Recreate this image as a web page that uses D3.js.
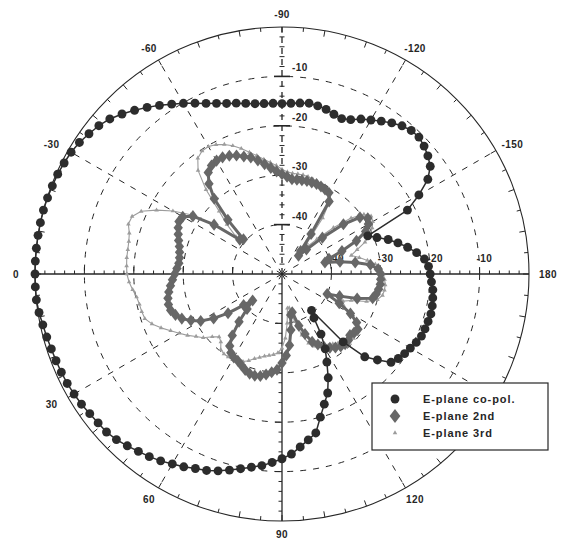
<!DOCTYPE html>
<html>
<head>
<meta charset="utf-8">
<script src="https://cdn.jsdelivr.net/npm/d3@7"></script>
<style>
  body { margin: 0; background: #fff; }
  svg text { font-family: "Liberation Sans", Arial, sans-serif; }
</style>
</head>
<body>
<svg id="chart" width="569" height="538"></svg>
<script>
// Measurement angles (deg): 0 = left, 90 = bottom, -90 = top, 180 = right
const angles = [
  -180,-177,-174,-171,-168,-165,-162,-159,-156,-153,-150,-147,-144,-141,-138,-135,-132,-129,-126,-123,
  -120,-117,-114,-111,-108,-105,-102,-99,-96,-93,-90,-87,-84,-81,-78,-75,-72,-69,-66,-63,
  -60,-57,-54,-51,-48,-45,-42,-39,-36,-33,-30,-27,-24,-21,-18,-15,-12,-9,-6,-3,
  0,3,6,9,12,15,18,21,24,27,30,33,36,39,42,45,48,51,54,57,
  60,63,66,69,72,75,78,81,84,87,90,93,96,99,102,105,108,111,114,117,
  120,123,126,129,132,135,138,141,144,147,150,153,156,159,162,165,168,171,174,177
];

// Normalised gain (dB)
const coPol = [
  -20,-20.3,-21,-22.4,-24,-25.7,-27.4,-29.4,-31,-21.5,-18,-14.8,-12.9,-12,-11.3,-10.8,-10.9,-11.4,-12.2,-13.1,
  -14,-14.8,-15.8,-16.3,-16,-15.5,-15.2,-15,-15.2,-15.4,-15.5,-15.4,-15.3,-15.1,-14.7,-14.2,-13.7,-13,-12.2,-11.2,
  -10.1,-9,-7.8,-6.6,-5.4,-4.2,-3.1,-2.3,-1.7,-1.1,-0.7,-0.5,-0.3,-0.2,-0.1,0,0,0,0,0,
  0,0,0,-0.2,-0.5,-0.7,-0.9,-1,-1.1,-1.2,-1.4,-1.6,-1.9,-2.1,-2.2,-2.6,-3.2,-3.8,-4.3,-4.9,
  -5.6,-6.2,-6.9,-7.4,-8.1,-8.9,-9.7,-10.4,-11,-11.8,-12.6,-13.5,-14.8,-16,-17.1,-20,-22.3,-24.2,-27,-30,
  -32.5,-35.5,-39,-40.5,-31.5,-26.3,-24,-21.6,-20.9,-20.4,-20,-19.5,-19.1,-19,-18.9,-18.8,-18.9,-19.1,-19.3,-19.7
];

const second = [
  -30,-30.5,-32,-35,-38,-41,-40,-37,-33.5,-31,-29.8,-29.3,-30.5,-34,-39,-43,-45,-44,-40,-32.5,
  -31,-30.8,-30.6,-30.5,-30.5,-30.5,-30.6,-30.7,-30.7,-30.3,-29.8,-29.2,-28.4,-27.5,-26.5,-25.6,-25,-24.3,-23.8,-23.5,
  -23.5,-23.8,-24.6,-26.5,-29.5,-34.5,-39.5,-39,-33,-28.5,-26.8,-26.6,-27,-27.5,-28,-28.5,-28.8,-29,-29,-28.7,
  -28.3,-27.8,-27.3,-26.8,-26.4,-26.2,-26.3,-26.9,-27.8,-29.3,-31,-33.5,-36.5,-40,-42,-40,-37,-34,-32,-31,
  -30.5,-30.3,-29.8,-29.2,-28.8,-28.7,-28.9,-29.4,-30,-30.6,-32,-33.5,-35.5,-38.5,-41.5,-42,-39,-37,-35,-34,
  -33,-32.2,-31.6,-31.1,-30.9,-31,-31.5,-31.2,-31,-32,-34,-37,-40,-37.5,-34,-31,-30.5,-30.2,-30,-30
];

const third = [
  -29.5,-30,-31,-32.5,-34,-35.5,-34,-32,-30.5,-29.5,-28.8,-28.5,-29.5,-32,-36,-40,-43,-42,-36,-32,
  -30.8,-30.5,-30.2,-30,-29.8,-29.6,-29.5,-29.5,-29.5,-29.3,-28.8,-28,-27.3,-26.5,-25.5,-24.5,-23.3,-22.2,-21.3,-20.6,
  -20.2,-20.3,-21,-23,-27,-32,-35,-38,-33,-28,-24.5,-21.5,-18.8,-17.5,-17.3,-18,-18.3,-18.4,-18.4,-18.5,
  -18.6,-19,-19.6,-20.2,-20.5,-20.6,-20.8,-21.8,-23.2,-24.7,-26,-27.2,-28.5,-29.5,-31,-32,-31.5,-30.3,-30,-30,
  -30,-30.2,-30.6,-31.2,-32,-32.5,-33,-33.3,-33.6,-34,-35,-37,-40,-43,-43,-40,-37,-35,-34,-33.5,
  -33,-32.8,-32.5,-32,-31.5,-31,-30.5,-30.5,-31,-32,-34,-36,-36.5,-35,-32,-30,-29.2,-29,-29,-29.2
];

const seriesNames = ["E-plane co-pol.", "E-plane 2nd", "E-plane 3rd"];
// the 150 label sits under the legend box, so it is left out
const angleTicks = [0, -30, -60, -90, -120, -150, 180, 120, 90, 60, 30];
const angleTickLabels = ["0", "-30", "-60", "-90", "-120", "-150", "180", "120", "90", "60", "30"];
const radialTicks = [-40, -30, -20, -10];
const radialTickLabels = ["-40", "-30", "-20", "-10"];

const svg = d3.select("#chart");
const cx = 282, cy = 274, R = 247;
const ink = "#262626";

const r = d3.scaleLinear().domain([-50, 0]).range([0, R]).clamp(true);
const rad = d => d * Math.PI / 180;
const px = (th, rr) => cx - rr * Math.cos(rad(th));
const py = (th, rr) => cy + rr * Math.sin(rad(th));

const g = svg.append("g");

// dashed grid rings
g.selectAll("circle.ring").data(radialTicks).join("circle")
  .attr("class", "ring").attr("cx", cx).attr("cy", cy).attr("r", d => r(d))
  .attr("fill", "none").attr("stroke", ink).attr("stroke-width", 1)
  .attr("stroke-dasharray", "6,7");

// dashed spokes
const spokes = [-30, -60, -120, -150, 30, 60, 120, 150];
g.selectAll("line.spoke").data(spokes).join("line")
  .attr("x1", cx).attr("y1", cy)
  .attr("x2", d => px(d, R)).attr("y2", d => py(d, R))
  .attr("stroke", ink).attr("stroke-width", 1).attr("stroke-dasharray", "6,7");

// outer circle
g.append("circle").attr("cx", cx).attr("cy", cy).attr("r", R)
  .attr("fill", "none").attr("stroke", ink).attr("stroke-width", 1.1);

// inward ticks on the outer circle every 5 degrees
const rimTicks = d3.range(-180, 180, 5);
g.selectAll("line.rim").data(rimTicks).join("line")
  .attr("x1", d => px(d, R)).attr("y1", d => py(d, R))
  .attr("x2", d => px(d, R - (d % 10 === 0 ? 6 : 4))).attr("y2", d => py(d, R - (d % 10 === 0 ? 6 : 4)))
  .attr("stroke", ink).attr("stroke-width", 1);

// axes: horizontal solid, lower vertical solid, upper vertical dashed
g.append("line").attr("x1", cx - R).attr("y1", cy).attr("x2", cx + R).attr("y2", cy)
  .attr("stroke", ink).attr("stroke-width", 1.3);
g.append("line").attr("x1", cx).attr("y1", cy).attr("x2", cx).attr("y2", cy + R)
  .attr("stroke", ink).attr("stroke-width", 1.3);
g.append("line").attr("x1", cx).attr("y1", cy).attr("x2", cx).attr("y2", cy - R)
  .attr("stroke", ink).attr("stroke-width", 1.3).attr("stroke-dasharray", "6,5");

// radial minor/major ticks along the axes
const minor = d3.range(-48, 0, 2);
// horizontal axis (both sides), ticks pointing up
[1, -1].forEach(s => {
  g.selectAll(null).data(minor).join("line")
    .attr("x1", d => cx + s * r(d)).attr("x2", d => cx + s * r(d))
    .attr("y1", cy).attr("y2", d => cy - (d % 10 === 0 ? 7 : 3.5))
    .attr("stroke", ink).attr("stroke-width", 1);
});
// lower vertical axis, ticks pointing left
g.selectAll(null).data(minor).join("line")
  .attr("x1", cx).attr("x2", d => cx - (d % 10 === 0 ? 7 : 3.5))
  .attr("y1", d => cy + r(d)).attr("y2", d => cy + r(d))
  .attr("stroke", ink).attr("stroke-width", 1);
// upper vertical axis, centred bars
g.selectAll(null).data(minor).join("line")
  .attr("x1", d => cx - (d % 10 === 0 ? 8 : 2.5)).attr("x2", d => cx + (d % 10 === 0 ? 8 : 2.5))
  .attr("y1", d => cy - r(d)).attr("y2", d => cy - r(d))
  .attr("stroke", ink).attr("stroke-width", d => d % 10 === 0 ? 1.6 : 1);

// radial labels
const lab = svg.append("g").attr("font-size", 10).attr("font-weight", "bold")
  .attr("fill", ink).attr("letter-spacing", 0.4);
lab.selectAll(null).data(radialTicks).join("text")
  .attr("x", cx + 10).attr("y", d => cy - r(d) - 5)
  .text((d, i) => radialTickLabels[i]);
lab.selectAll(null).data(radialTicks).join("text")
  .attr("x", d => cx + r(d) - 3).attr("y", cy - 12)
  .text((d, i) => radialTickLabels[i]);

// angle labels
lab.selectAll(null).data(angleTicks).join("text")
  .attr("x", d => cx - 266 * Math.cos(rad(d)))
  .attr("y", d => cy + 260 * Math.sin(rad(d)))
  .attr("text-anchor", "middle").attr("dominant-baseline", "central")
  .text((d, i) => angleTickLabels[i]);

// data series
const series = [
  { name: seriesNames[2], values: third, color: "#9c9c9c", width: 1.1, sym: d3.symbolTriangle, size: 9, sx: 1 },
  { name: seriesNames[1], values: second, color: "#676767", width: 3, sym: d3.symbolDiamond, size: 42, sx: 1.35 },
  { name: seriesNames[0], values: coPol, color: "#2c2c2c", width: 1.5, sym: d3.symbolCircle, size: 62, sx: 1 }
];

const line = d3.line()
  .x(d => px(d.a, r(d.v))).y(d => py(d.a, r(d.v)))
  .curve(d3.curveLinearClosed);

const plot = svg.append("g");
series.forEach(s => {
  const pts = angles.map((a, i) => ({ a, v: s.values[i] }));
  plot.append("path").datum(pts).attr("d", line)
    .attr("fill", "none").attr("stroke", s.color).attr("stroke-width", s.width)
    .attr("stroke-linejoin", "round");
  plot.selectAll(null).data(pts).join("path")
    .attr("transform", d => `translate(${px(d.a, r(d.v))},${py(d.a, r(d.v))}) scale(${s.sx},1)`)
    .attr("d", d3.symbol().type(s.sym).size(s.size))
    .attr("fill", s.color);
});

// legend
const leg = svg.append("g").attr("transform", "translate(372,383)");
leg.append("rect").attr("width", 176).attr("height", 67)
  .attr("fill", "#fff").attr("stroke", ink).attr("stroke-width", 1.2);
const legItems = [series[2], series[1], series[0]];
legItems.forEach((s, i) => {
  const y = 16 + i * 17;
  leg.append("path").attr("transform", `translate(23,${y}) scale(${s.sx},1)`)
    .attr("d", d3.symbol().type(s.sym).size(s.size * (i === 1 ? 1.3 : 1)))
    .attr("fill", s.color);
  leg.append("text").attr("x", 51).attr("y", y).attr("dominant-baseline", "central")
    .attr("font-size", 11).attr("font-weight", "bold").attr("letter-spacing", 0.9)
    .attr("fill", ink).text(s.name);
});
</script>
</body>
</html>
